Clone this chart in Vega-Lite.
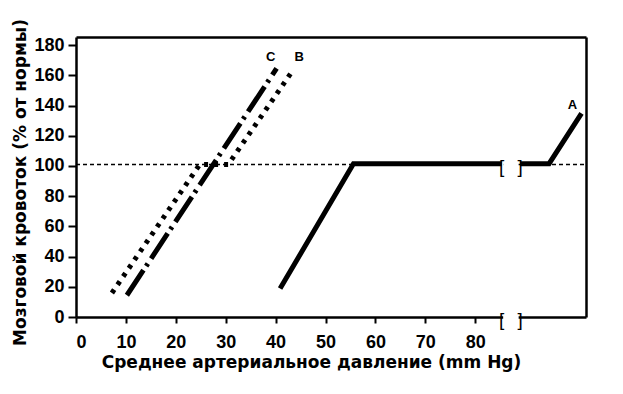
{
  "$schema": "https://vega.github.io/schema/vega-lite/v6.json",
  "width": 510,
  "height": 280,
  "autosize": {"type": "none"},
  "padding": {"left": 76, "top": 37, "right": 37, "bottom": 77},
  "background": "white",
  "config": {
    "view": {"stroke": null},
    "font": "Liberation Sans",
    "axis": {
      "grid": false,
      "domainColor": "black",
      "domainWidth": 2.5,
      "tickColor": "black",
      "tickWidth": 2,
      "tickSize": 6,
      "labelColor": "black",
      "labelFontSize": 18,
      "labelFontWeight": "bold",
      "titleColor": "black",
      "titleFont": "DejaVu Sans",
      "titleFontSize": 17,
      "titleFontWeight": "bold"
    }
  },
  "datasets": {
    "ref": [{"x": 0, "y": 101}, {"x": 102.2, "y": 101}],
    "curveA": [
      {"seg": 1, "x": 40.9, "y": 18.8},
      {"seg": 1, "x": 55.6, "y": 101.5},
      {"seg": 1, "x": 85.3, "y": 101.5},
      {"seg": 2, "x": 89.0, "y": 101.5},
      {"seg": 2, "x": 94.8, "y": 101.5},
      {"seg": 2, "x": 101.3, "y": 134.8}
    ],
    "curveB": [
      {"x": 7.2, "y": 15.9},
      {"x": 24.8, "y": 101},
      {"x": 30.5, "y": 101},
      {"x": 43.5, "y": 163.5}
    ],
    "curveC": [
      {"x": 10.2, "y": 14.4},
      {"x": 40.2, "y": 164.6}
    ],
    "gaps": [
      {"x": 85.6, "x2": 88.7, "y": -3, "y2": 3},
      {"x": 85.6, "x2": 88.7, "y": 97, "y2": 105}
    ],
    "brackets": [
      {"x": 85.3, "y": 101.5, "t": "["},
      {"x": 89.0, "y": 101.5, "t": "]"},
      {"x": 85.3, "y": 0, "t": "["},
      {"x": 89.0, "y": 0, "t": "]"}
    ],
    "labels": [
      {"x": 39.0, "y": 172.3, "t": "C"},
      {"x": 44.7, "y": 172.3, "t": "B"},
      {"x": 99.5, "y": 140.3, "t": "A"}
    ]
  },
  "layer": [
    {
      "data": {"name": "ref"},
      "mark": {"type": "line", "color": "black", "strokeWidth": 1.5, "strokeDash": [4, 3]},
      "encoding": {
        "x": {
          "field": "x", "type": "quantitative",
          "scale": {"domain": [0, 102.2], "nice": false, "zero": false},
          "axis": {
            "orient": "bottom",
            "values": [0, 10, 20, 30, 40, 50, 60, 70, 80],
            "labelPadding": 10,
            "title": "Среднее артериальное давление (mm Hg)",
            "titlePadding": 3,
            "titleX": 235
          }
        },
        "y": {
          "field": "y", "type": "quantitative",
          "scale": {"domain": [0, 185.4], "nice": false, "zero": false},
          "axis": {
            "orient": "left",
            "values": [0, 20, 40, 60, 80, 100, 120, 140, 160, 180],
            "tickSize": 8,
            "labelPadding": 4,
            "title": "Мозговой кровоток (% от нормы)",
            "titlePadding": 4,
            "titleY": 145
          }
        }
      }
    },
    {
      "data": {"name": "curveA"},
      "mark": {"type": "line", "color": "black", "strokeWidth": 5, "strokeCap": "butt"},
      "encoding": {
        "x": {"field": "x", "type": "quantitative", "scale": {"domain": [0, 102.2], "nice": false, "zero": false},
          "axis": {"orient": "top", "labels": false, "ticks": false, "title": null}},
        "y": {"field": "y", "type": "quantitative", "scale": {"domain": [0, 185.4], "nice": false, "zero": false},
          "axis": {"orient": "right", "labels": false, "ticks": false, "title": null}},
        "detail": {"field": "seg", "type": "nominal"}
      }
    },
    {
      "data": {"name": "curveB"},
      "mark": {"type": "line", "color": "black", "strokeWidth": 5, "strokeDash": [4, 6], "strokeCap": "butt"},
      "encoding": {
        "x": {"field": "x", "type": "quantitative", "scale": {"domain": [0, 102.2], "nice": false, "zero": false}, "axis": null},
        "y": {"field": "y", "type": "quantitative", "scale": {"domain": [0, 185.4], "nice": false, "zero": false}, "axis": null}
      }
    },
    {
      "data": {"name": "curveC"},
      "mark": {"type": "line", "color": "black", "strokeWidth": 5, "strokeDash": [30, 5, 3, 6], "strokeCap": "butt"},
      "encoding": {
        "x": {"field": "x", "type": "quantitative", "scale": {"domain": [0, 102.2], "nice": false, "zero": false}, "axis": null},
        "y": {"field": "y", "type": "quantitative", "scale": {"domain": [0, 185.4], "nice": false, "zero": false}, "axis": null}
      }
    },
    {
      "data": {"name": "gaps"},
      "mark": {"type": "rect", "color": "white"},
      "encoding": {
        "x": {"field": "x", "type": "quantitative", "scale": {"domain": [0, 102.2], "nice": false, "zero": false}, "axis": null},
        "x2": {"field": "x2"},
        "y": {"field": "y", "type": "quantitative", "scale": {"domain": [0, 185.4], "nice": false, "zero": false}, "axis": null},
        "y2": {"field": "y2"}
      }
    },
    {
      "data": {"name": "brackets"},
      "mark": {"type": "text", "color": "black", "fontSize": 19, "baseline": "middle", "align": "center", "dy": 3},
      "encoding": {
        "x": {"field": "x", "type": "quantitative", "scale": {"domain": [0, 102.2], "nice": false, "zero": false}, "axis": null},
        "y": {"field": "y", "type": "quantitative", "scale": {"domain": [0, 185.4], "nice": false, "zero": false}, "axis": null},
        "text": {"field": "t"}
      }
    },
    {
      "data": {"name": "labels"},
      "mark": {"type": "text", "color": "black", "fontSize": 13, "fontWeight": "bold", "baseline": "middle", "align": "center"},
      "encoding": {
        "x": {"field": "x", "type": "quantitative", "scale": {"domain": [0, 102.2], "nice": false, "zero": false}, "axis": null},
        "y": {"field": "y", "type": "quantitative", "scale": {"domain": [0, 185.4], "nice": false, "zero": false}, "axis": null},
        "text": {"field": "t"}
      }
    }
  ],
  "resolve": {"axis": {"x": "independent", "y": "independent"}}
}
